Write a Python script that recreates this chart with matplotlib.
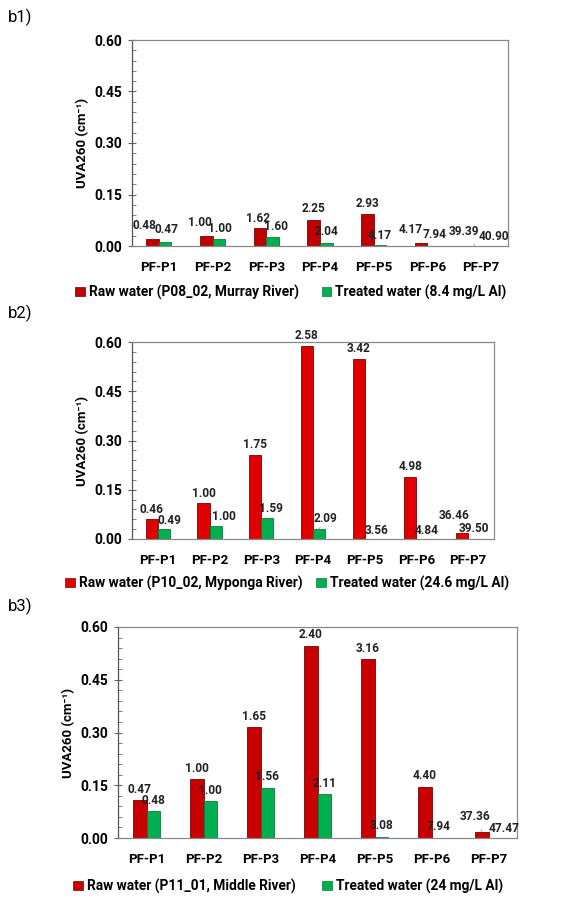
import matplotlib
matplotlib.use("Agg")
import matplotlib.pyplot as plt
from matplotlib.patches import Patch
from matplotlib.ticker import MultipleLocator
import numpy as np

plt.rcParams['font.family'] = ['Roboto', 'DejaVu Sans']

categories = ["PF-P1", "PF-P2", "PF-P3", "PF-P4", "PF-P5", "PF-P6", "PF-P7"]
y_ticks = [0.00, 0.15, 0.30, 0.45, 0.60]

# b1: Murray River
b1_raw = [0.020, 0.029, 0.052, 0.077, 0.093, 0.010, 0.001]
b1_treated = [0.013, 0.020, 0.027, 0.010, 0.002, 0.000, 0.000]
b1_raw_labels = ["0.48", "1.00", "1.62", "2.25", "2.93", "4.17", "39.39"]
b1_treated_labels = ["0.47", "1.00", "1.60", "2.04", "4.17", "7.94", "40.90"]

# b2: Myponga River
b2_raw = [0.060, 0.109, 0.257, 0.589, 0.549, 0.189, 0.019]
b2_treated = [0.029, 0.040, 0.063, 0.030, 0.000, 0.000, 0.000]
b2_raw_labels = ["0.46", "1.00", "1.75", "2.58", "3.42", "4.98", "36.46"]
b2_treated_labels = ["0.49", "1.00", "1.59", "2.09", "3.56", "4.84", "39.50"]

# b3: Middle River
b3_raw = [0.108, 0.167, 0.315, 0.547, 0.509, 0.146, 0.018]
b3_treated = [0.076, 0.104, 0.143, 0.125, 0.003, 0.000, 0.000]
b3_raw_labels = ["0.47", "1.00", "1.65", "2.40", "3.16", "4.40", "37.36"]
b3_treated_labels = ["0.48", "1.00", "1.56", "2.11", "3.08", "7.94", "47.47"]

legend_raw = ["Raw water (P08_02, Murray River)",
              "Raw water (P10_02, Myponga River)",
              "Raw water (P11_01, Middle River)"]
legend_treated = ["Treated water (8.4 mg/L Al)",
                  "Treated water (24.6 mg/L Al)",
                  "Treated water (24 mg/L Al)"]
panel_tags = ["b1)", "b2)", "b3)"]

# label placement: (dx px, dy px, leader line)
b1_raw_off = [(-8, 14, True), (-6, 14, True), (-2, 10, False), (0, 11, False),
              (0, 11, False), (-10, 13, True), (-11, 14, True)]
b1_tr_off = [(1, 12, False), (1, 11, False), (3, 10, False), (0, 11, False),
             (0, 10, False), (1, 11, False), (7, 9, False)]
b2_raw_off = [(0, 10, False)] * 6 + [(-8, 17, True)]
b2_tr_off = [(6, 9, False), (8, 9, False), (4, 10, False), (6, 11, True),
             (6, 9, False), (4, 9, False), (0, 10, False)]
b3_raw_off = [(0, 11, False)] * 6 + [(-7, 15, True)]
b3_tr_off = [(0, 11, False)] * 6 + [(9, 9, False)]

W, H = 584, 899
fig = plt.figure(figsize=(W / 100, H / 100), dpi=100)

# axes boxes in pixels: left, right, top, bottom
boxes = [(132, 508, 40, 246), (132, 494, 342, 539), (118, 517, 627, 838)]
legend_centers = [(291, 292), (287, 583), (288, 886)]
legend_gaps = [1.65, 1.0, 1.9]
tag_pos = [(8, 17), (8, 313), (8, 606)]

raw_colors = ["#C00000", "#E00000", "#C80000"]
green = "#00B050"

panels = [
    (b1_raw, b1_treated, b1_raw_labels, b1_treated_labels, b1_raw_off, b1_tr_off),
    (b2_raw, b2_treated, b2_raw_labels, b2_treated_labels, b2_raw_off, b2_tr_off),
    (b3_raw, b3_treated, b3_raw_labels, b3_treated_labels, b3_raw_off, b3_tr_off),
]

x = np.arange(len(categories))
bw = 0.235

for i, (raw, tr, rl, tl, ro, to) in enumerate(panels):
    l, r, t, b = boxes[i]
    ax = fig.add_axes([l / W, 1 - b / H, (r - l) / W, (b - t) / H])
    bars_r = ax.bar(x - bw / 2, raw, bw, color=raw_colors[i], edgecolor="#7a0000", linewidth=0.6)
    bars_t = ax.bar(x + bw / 2, tr, bw, color=green, edgecolor="#0a7a3a", linewidth=0.6)
    for bars, labels, offs in ((bars_r, rl, ro), (bars_t, tl, to)):
        for bar, lab, (dx, dy, lead) in zip(bars, labels, offs):
            xc = bar.get_x() + bar.get_width() / 2
            yt = bar.get_height()
            kw = {}
            if lead:
                kw["arrowprops"] = dict(arrowstyle="-", color="#999999", lw=0.6,
                                        shrinkA=3, shrinkB=0)
            ax.annotate(lab, (xc, yt), xytext=(dx, dy), textcoords="offset pixels",
                        ha="center", va="center", fontsize=8.6, fontweight="bold",
                        color="#222222", **kw)
    ax.set_xlim(-0.5, len(categories) - 0.5)
    ax.set_ylim(0, 0.60)
    ax.set_yticks(y_ticks)
    ax.set_yticklabels([f"{v:.2f}" for v in y_ticks], fontsize=10, fontweight="bold")
    ax.yaxis.set_minor_locator(MultipleLocator(0.03))
    ax.tick_params(axis="y", which="major", direction="inout", length=6, width=0.8,
                   color="#666666", pad=4)
    ax.tick_params(axis="y", which="minor", direction="in", length=3, width=0.6,
                   color="#666666")
    ax.set_xticks(x)
    ax.set_xticklabels(categories, fontsize=9.5, fontweight="bold")
    ax.tick_params(axis="x", length=0, pad=11)
    for s in ax.spines.values():
        s.set_color("#888888")
        s.set_linewidth(0.9)
    ax.spines["left"].set_color("#555555")
    ax.set_ylabel("UVA260 (cm\u207b\u00b9)", fontsize=9.5, fontweight="bold", labelpad=4)

    handles = [Patch(facecolor=raw_colors[i], edgecolor="#7a0000", linewidth=0.5),
               Patch(facecolor=green, edgecolor="#0a7a3a", linewidth=0.5)]
    lx, ly = legend_centers[i]
    fig.legend(handles, [legend_raw[i], legend_treated[i]], loc="center",
               bbox_to_anchor=(lx / W, 1 - ly / H), ncol=2, frameon=False,
               handlelength=0.7, handleheight=0.7, handletextpad=0.3,
               columnspacing=legend_gaps[i], prop={"size": 9.9, "weight": "bold"})
    tx, ty = tag_pos[i]
    fig.text(tx / W, 1 - ty / H, panel_tags[i], fontsize=12, ha="left", va="center")

fig.savefig("out.png", dpi=100)
